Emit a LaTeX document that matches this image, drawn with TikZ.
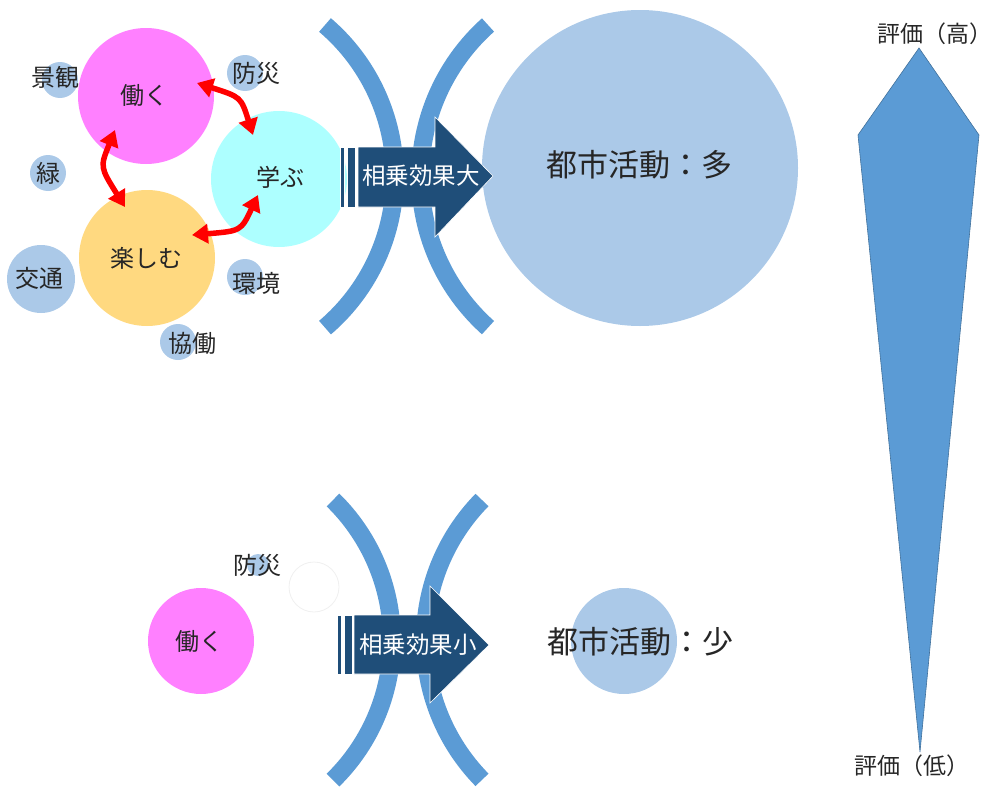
\documentclass[tikz,border=0pt]{standalone}
\usepackage{fontspec}
\setmainfont{Noto Sans CJK JP}
\usetikzlibrary{arrows.meta}
\definecolor{pinkc}{HTML}{FF80FF}
\definecolor{cyanc}{HTML}{ADFFFF}
\definecolor{yellowc}{HTML}{FFD980}
\definecolor{lightb}{HTML}{ABC9E8}
\definecolor{arcb}{HTML}{5B9BD5}
\definecolor{darkb}{HTML}{1F4E79}
\definecolor{edgeb}{HTML}{41719C}
\definecolor{txt}{HTML}{262626}
\tikzset{
  bub/.style={circle, inner sep=0pt, minimum size=#1},
  lbl/.style={text=txt, inner sep=0pt, font=\fontsize{24}{26}\selectfont},
  scalelbl/.style={text=txt, inner sep=0pt, font=\fontsize{23}{25}\selectfont},
  biglbl/.style={text=txt, inner sep=0pt, font=\fontsize{31}{34}\selectfont},
  arctrack/.style={draw=arcb, line width=18pt},
  stripe/.style={fill=darkb, draw=white, line width=0.6pt},
  arrtxt/.style={text=white, inner sep=0pt, font=\fontsize{23.5}{25}\selectfont},
  redarr/.style={draw=red, line width=5.5pt, {Triangle[length=16pt,width=19pt]}-{Triangle[length=16pt,width=19pt]}}
}
\begin{document}
\begin{tikzpicture}[x=1pt,y=-1pt]
\useasboundingbox (0,0) rectangle (991,787);
% ---------- top group ----------
% small circles
\node[bub=36, fill=lightb] (ckeikan) at (60,80) {};
\node[bub=36, fill=lightb] (cbousai) at (245,73) {};
\node[bub=36, fill=lightb] (cmidori) at (48,173) {};
\node[bub=68, fill=lightb] (ckoutsu) at (41,279) {};
\node[bub=36, fill=lightb] (ckankyo) at (245,277) {};
\node[bub=36, fill=lightb] (ckyoudou) at (178,342) {};
% main circles
\node[bub=136, fill=pinkc] (hataraku) at (146,96) {};
\node[bub=136, fill=cyanc] (manabu) at (279,179) {};
\node[bub=136, fill=yellowc] (tanoshimu) at (147,258) {};
% labels
\node[lbl] (tkeikan) at (55,77) {景観};
\node[lbl] (tbousai) at (256,73) {防災};
\node[lbl] (tmidori) at (48,173) {緑};
\node[lbl] (tkoutsu) at (40,278) {交通};
\node[lbl] (tkankyo) at (256,283) {環境};
\node[lbl] (tkyoudou) at (192,343) {協働};
\node[lbl] (thataraku) at (144,95) {働く};
\node[lbl] (tmanabu) at (280,177) {学ぶ};
\node[lbl] (ttanoshimu) at (146,258) {楽しむ};
% red double arrows
\coordinate (a1) at (197,83);  \coordinate (b1) at (253,135);
\coordinate (a2) at (115,130); \coordinate (b2) at (125,207);
\coordinate (a3) at (258,195); \coordinate (b3) at (192,235);
\draw[redarr] (a1) .. controls (241,97) .. (b1);
\draw[redarr] (a2) .. controls (100,167) .. (b2);
\draw[redarr] (a3) .. controls (241,231) .. (b3);
% arcs
\draw[arctrack] (325,25) arc[start angle=-49.5, end angle=49.5, radius=199];
\draw[arctrack] (488,25) arc[start angle=228.2, end angle=131.8, radius=203];
% big result circle
\node[bub=316, fill=lightb] (ctamoku) at (640,168) {};
\node[biglbl] (ttamoku) at (639,165) {都市活動：多};
% striped arrow
\fill[stripe] (340,147) rectangle (344.5,207);
\fill[stripe] (347,147) rectangle (355,207);
\filldraw[stripe] (358,147) -- (435,147) -- (435,117) -- (493,176) -- (435,237) -- (435,207) -- (358,207) -- cycle;
\node[arrtxt] (tdai) at (421,176) {相乗効果大};
% ---------- bottom group ----------
\node[bub=22, fill=lightb] (cbousai2) at (258,565) {};
\node[lbl] (tbousai2) at (257,565) {防災};
\node[bub=50, fill=white, draw=black!6, line width=0.8pt] (cempty) at (314,587) {};
\node[bub=106, fill=pinkc] (hataraku2) at (201,641) {};
\node[lbl] (thataraku2) at (199,641) {働く};
\draw[arctrack] (333,500) arc[start angle=-45.6, end angle=45.6, radius=196];
\draw[arctrack] (482,500) arc[start angle=224.4, end angle=135.6, radius=200];
\node[bub=106, fill=lightb] (cshou) at (624,641) {};
\node[biglbl] (tshou) at (640,642) {都市活動：少};
\fill[stripe] (337,615) rectangle (341.5,674);
\fill[stripe] (344,615) rectangle (352,674);
\filldraw[stripe] (354,615) -- (430,615) -- (430,586) -- (489,645) -- (430,703) -- (430,674) -- (354,674) -- cycle;
\node[arrtxt] (tshou2) at (418,645) {相乗効果小};
% ---------- evaluation scale ----------
\filldraw[fill=arcb, draw=edgeb, line width=0.6pt] (919,48) -- (979,135) -- (920,752) -- (858,135) -- cycle;
\node[scalelbl] (thigh) at (935,34) {評価（高）};
\node[scalelbl] (tlow) at (912,766) {評価（低）};
\end{tikzpicture}
\end{document}
